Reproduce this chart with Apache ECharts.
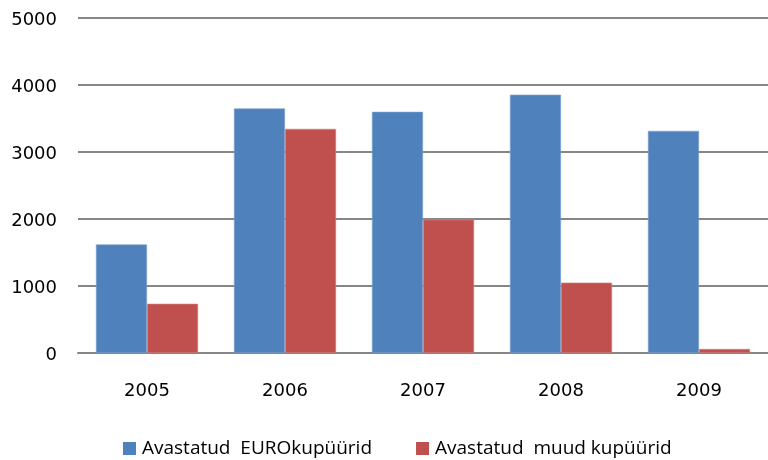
<!DOCTYPE html>
<html>
<head>
<meta charset="utf-8">
<script src="https://cdn.jsdelivr.net/npm/echarts@6/dist/echarts.min.js"></script>
<style>
  html, body { margin: 0; padding: 0; background: #fff; }
  #main { width: 768px; height: 460px; }
</style>
</head>
<body>
<div id="main"></div>
<script>
const years = ['2005', '2006', '2007', '2008', '2009'];
const euroNotes = [1620, 3650, 3600, 3855, 3315];
const otherNotes = [735, 3345, 1990, 1050, 60];
const yTicks = [0, 1000, 2000, 3000, 4000, 5000];

const chart = echarts.init(document.getElementById('main'));

const option = {
  animation: false,
  grid: { left: 78, right: 0, top: 18, bottom: 107 },
  legend: {
    top: 434,
    left: 118,
    itemWidth: 13,
    itemHeight: 13,
    itemGap: 44,
    icon: 'rect',
    itemStyle: { borderWidth: 0 },
    textStyle: { fontFamily: 'Open Sans', fontSize: 19, color: '#000', padding: [0, 0, 0, 1] },
    data: ['Avastatud  EUROkupüürid', 'Avastatud  muud kupüürid']
  },
  xAxis: {
    type: 'category',
    data: years,
    axisTick: { show: false },
    axisLine: { lineStyle: { color: '#868686', width: 2 } },
    axisLabel: { fontFamily: 'DejaVu Sans', fontSize: 18, color: '#000', margin: 29 }
  },
  yAxis: {
    type: 'value',
    min: yTicks[0],
    max: yTicks[yTicks.length - 1],
    interval: 1000,
    axisLine: { show: false },
    axisTick: { show: false },
    splitLine: { lineStyle: { color: '#868686', width: 2 } },
    axisLabel: {
      fontFamily: 'DejaVu Sans', fontSize: 18, color: '#000', margin: 21,
      verticalAlign: 'top', padding: [-7, 0, 0, 0],
      formatter: v => String(v)
    }
  },
  series: [
    {
      name: 'Avastatud  EUROkupüürid',
      type: 'bar',
      data: euroNotes,
      barGap: '0%',
      barCategoryGap: '26%',
      itemStyle: { color: '#4F81BD', borderColor: '#7FA3D0', borderWidth: 0.6 }
    },
    {
      name: 'Avastatud  muud kupüürid',
      type: 'bar',
      data: otherNotes,
      itemStyle: { color: '#C0504D', borderColor: '#D48482', borderWidth: 0.6 }
    }
  ]
};

chart.setOption(option);
</script>
</body>
</html>
